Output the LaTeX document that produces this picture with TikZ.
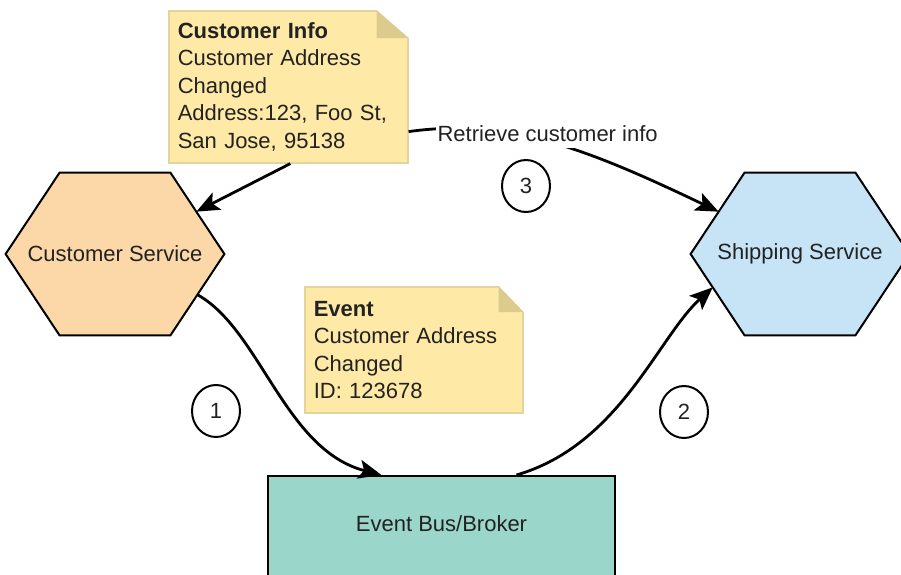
\documentclass[tikz,border=0pt]{standalone}
\usepackage{fontspec}
\setmainfont{Liberation Sans}
\usetikzlibrary{positioning,arrows.meta,shapes.geometric,calc,backgrounds}

\definecolor{csfill}{HTML}{FCD8A8}
\definecolor{shipfill}{HTML}{C6E4F6}
\definecolor{busfill}{HTML}{9BD6CB}
\definecolor{notefill}{HTML}{FEE9A7}
\definecolor{noteline}{HTML}{E3D49E}
\definecolor{notefoldc}{HTML}{DCCB8C}
\definecolor{inkc}{HTML}{222222}

% hexagon behind a service node: node name, fill colour
% (also names its corners #1-tl, #1-tr, #1-br, #1-bl)
\newcommand{\hexaround}[2]{%
  \coordinate (#1-tl) at ($(#1.north west)+(54,0)$);
  \coordinate (#1-tr) at ($(#1.north east)+(-54,0)$);
  \coordinate (#1-br) at ($(#1.south east)+(-54,0)$);
  \coordinate (#1-bl) at ($(#1.south west)+(54,0)$);
  \begin{scope}[on background layer]
    \filldraw[fill=#2, draw=black, line width=1pt] (#1.west) -- (#1-tl) -- (#1-tr)
      -- (#1.east) -- (#1-br) -- (#1-bl) -- cycle;
  \end{scope}
}
% dog-ear on a note: node name, fold width, fold height (px)
\newcommand{\notefold}[3]{%
  \fill[white] ($(#1.north east)+(-#2,-2)$) -- ($(#1.north east)+(2,-2)$) -- ($(#1.north east)+(2,#3)$)
    -- ($(#1.north east)+(0,#3)$) -- ($(#1.north east)+(-#2,0)$) -- cycle;
  \fill[notefoldc] ($(#1.north east)+(-#2,0)$) -- ($(#1.north east)+(0,#3)$) -- ($(#1.north east)+(-#2,#3)$) -- cycle;
}

\begin{document}
\begin{tikzpicture}[x=0.5pt, y=-0.5pt,
  font=\fontsize{11}{13.75}\selectfont, text=inkc,
  service/.style={rectangle, inner sep=0pt, minimum width=109pt, minimum height=81pt},
  note/.style={rectangle, fill=notefill, draw=noteline, line width=0.8pt, align=left,
    anchor=north west, inner xsep=4.5pt, inner ysep=5pt},
  bus/.style={rectangle, draw=black, line width=1pt, fill=busfill, minimum width=173.5pt,
    inner ysep=19.5pt, text height=8pt, text depth=12pt},
  numtag/.style={ellipse, draw=black, line width=1pt, minimum width=24pt, minimum height=26pt, inner sep=0pt},
  flow/.style={-{Stealth[length=11.5pt, width=9.5pt, inset=2.5pt]}, line width=1.4pt}
  ]
  \useasboundingbox (0,0) rectangle (901,574);

  % services and broker
  \node[service] (cs) at (115,254) {Customer Service};
  \hexaround{cs}{csfill}
  \node[service] (ship) at (800,254) {Shipping Service};
  \hexaround{ship}{shipfill}
  \node[bus, anchor=north] (bus) at (441.5,475) {Event Bus/Broker};

  % points on the hexagon edges
  \coordinate (cs-in) at ($(cs-tr)!0.48!(cs.east)$);
  \coordinate (cs-out) at ($(cs.east)!0.5!(cs-br)$);
  \coordinate (ship-top) at ($(ship.west)!0.52!(ship-tl)$);
  \coordinate (ship-low) at ($(ship.west)!0.41!(ship-bl)$);

  % notes
  \node[note, text width=110.5pt, minimum height=76pt] (info) at (168,10) {\textbf{Customer Info}\\Customer Address\\Changed\\Address:123, Foo St,\\San Jose, 95138};
  \notefold{info}{32}{28}
  \node[note, text width=100pt, minimum height=63pt] (evt) at (304,286) {\textbf{Event}\\Customer Address\\Changed\\ID: 123678};
  \notefold{evt}{25}{26}

  % step numbers
  \node[numtag] (n1) at (216,411) {1};
  \node[numtag] (n2) at (684,412) {2};
  \node[numtag] (n3) at (526,186) {3};

  % connectors
  \draw[flow] ([xshift=1pt]info.south) -- (cs-in);
  \draw[flow] ($(info.south east)+(0,-32)$) .. controls +(100,-14) and +(-132,-63) .. (ship-top)
    node[pos=0.5, fill=white, inner xsep=1pt, inner ysep=3pt, xshift=-2pt, yshift=4.5pt] (retr) {Retrieve customer info};
  \draw[flow] (cs-out) .. controls +(63,35) and +(-97,-25) .. ($(bus.north)+(-60,0)$);
  \draw[flow] ($(bus.north)+(75,0)$) .. controls +(103,-30) and +(-55,50) .. (ship-low);
\end{tikzpicture}
\end{document}
